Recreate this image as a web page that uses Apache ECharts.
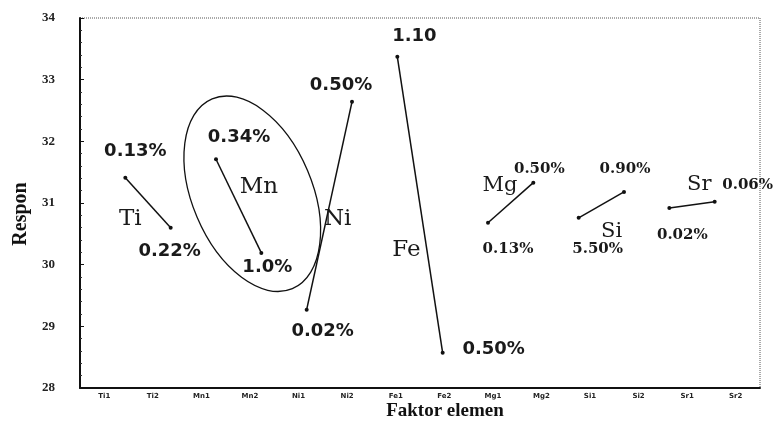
<!DOCTYPE html>
<html>
<head>
<meta charset="utf-8">
<script src="https://cdn.jsdelivr.net/npm/echarts@6/dist/echarts.min.js"></script>
<style>
  html, body { margin: 0; padding: 0; background: #fff; }
  #chart { width: 779px; height: 432px; }
</style>
</head>
<body>
<div id="chart"></div>
<script>
// Main-effect pairs: each element factor has a low and a high level
const elements = ['Ti', 'Mn', 'Ni', 'Fe', 'Mg', 'Si', 'Sr'];
const levelA = ['0.13%', '0.34%', '0.02%', '1.10', '0.13%', '5.50%', '0.02%'];
const levelB = ['0.22%', '1.0%', '0.50%', '0.50%', '0.50%', '0.90%', '0.06%'];
const responA = [31.41, 31.71, 29.27, 33.37, 30.68, 30.76, 30.92];
const responB = [30.60, 30.19, 32.64, 28.57, 31.33, 31.18, 31.02];
const tickLabels = ['Ti1', 'Ti2', 'Mn1', 'Mn2', 'Ni1', 'Ni2', 'Fe1', 'Fe2',
                    'Mg1', 'Mg2', 'Si1', 'Si2', 'Sr1', 'Sr2'];
const yMin = 28, yMax = 34;

// label placement (pixel offsets from each point)
const offA = [[10, -26], [23, -22], [16, 22], [17, -21], [20, 26], [19, 31], [13, 27]];
const offB = [[-1, 24], [6, 14], [-11, -17], [51, -4], [6, -14], [1, -23], [33, -17]];
const nameOff = [[5, 41], [43, 28], [31, -91], [9, 193], [12, -37], [33, 14], [30, -23]];

const sansLabel = { fontFamily: 'DejaVu Sans', fontWeight: 'bold', fontSize: 18, color: '#1a1a1a' };
const serifLabel = { fontFamily: 'DejaVu Serif', fontWeight: 'bold', fontSize: 15, color: '#1a1a1a' };

const chart = echarts.init(document.getElementById('chart'), null, { renderer: 'canvas' });

const series = elements.map(function (el, i) {
  const st = i < 4 ? sansLabel : serifLabel;
  const mk = function (x, y, text, off) {
    return {
      value: [x, y],
      label: Object.assign({ show: true, position: 'inside', formatter: text, offset: off }, st)
    };
  };
  return {
    type: 'line',
    name: el,
    xAxisIndex: 0,
    symbol: 'circle',
    symbolSize: 4,
    itemStyle: { color: '#111' },
    lineStyle: { color: '#111', width: 1.5 },
    data: [mk(2 * i, responA[i], levelA[i], offA[i]), mk(2 * i + 1, responB[i], levelB[i], offB[i])],
    z: 3
  };
});

chart.setOption({
  animation: false,
  backgroundColor: '#fff',
  grid: {
    left: 80, right: 19, top: 18, bottom: 44,
    show: true, borderColor: '#555', borderWidth: 1, borderType: 'dotted'
  },
  xAxis: [
    {
      type: 'value', min: -1, max: 14, position: 'bottom',
      axisLine: { show: true, onZero: false, lineStyle: { color: '#111', width: 2 } },
      axisTick: { show: false }, axisLabel: { show: false }, splitLine: { show: false },
      name: 'Faktor elemen', nameLocation: 'middle', nameGap: 14,
      nameTextStyle: { fontFamily: 'Liberation Serif', fontWeight: 'bold', fontSize: 19,
                       color: '#111', verticalAlign: 'top', padding: [0, 0, 0, 50] }
    },
    {
      type: 'category', data: tickLabels, position: 'bottom', boundaryGap: true,
      axisLine: { show: false }, axisTick: { show: false },
      axisLabel: { fontFamily: 'DejaVu Sans', fontWeight: 'bold', fontSize: 7, color: '#222', margin: 5 }
    }
  ],
  yAxis: {
    type: 'value', min: yMin, max: yMax, interval: 1,
    axisLine: { show: true, onZero: false, lineStyle: { color: '#111', width: 2 } },
    axisTick: { show: true, inside: true, length: 4, lineStyle: { color: '#111' } },
    minorTick: { show: true, splitNumber: 5, length: 2, lineStyle: { color: '#333' } },
    splitLine: { show: false },
    axisLabel: { fontFamily: 'Liberation Serif', fontWeight: 'bold', fontSize: 13, color: '#222', margin: 25 },
    name: 'Respon', nameLocation: 'middle', nameGap: 47,
    nameTextStyle: { fontFamily: 'Liberation Serif', fontWeight: 'bold', fontSize: 20, color: '#111',
                     padding: [0, 22, 0, 0] }
  },
  series: series
});

// element names next to each pair, plus the ring around the Mn pair
const graphics = elements.map(function (el, i) {
  const p = chart.convertToPixel({ xAxisIndex: 0, yAxisIndex: 0 }, [2 * i, responA[i]]);
  return {
    type: 'text',
    x: p[0] + nameOff[i][0], y: p[1] + nameOff[i][1],
    style: {
      text: el, fontFamily: 'DejaVu Serif', fontSize: i < 4 ? 23 : 21,
      fill: '#1a1a1a', align: 'center', verticalAlign: 'middle'
    },
    z: 10
  };
});
const ringCenter = chart.convertToPixel({ xAxisIndex: 0, yAxisIndex: 0 }, [2.8, 31.15]);
graphics.push({
  type: 'ellipse',
  x: ringCenter[0], y: ringCenter[1],
  rotation: 0.40,
  shape: { cx: 0, cy: 0, rx: 60, ry: 103 },
  style: { fill: 'none', stroke: '#111', lineWidth: 1.3 },
  z: 10
});
chart.setOption({ graphic: graphics });
</script>
</body>
</html>
